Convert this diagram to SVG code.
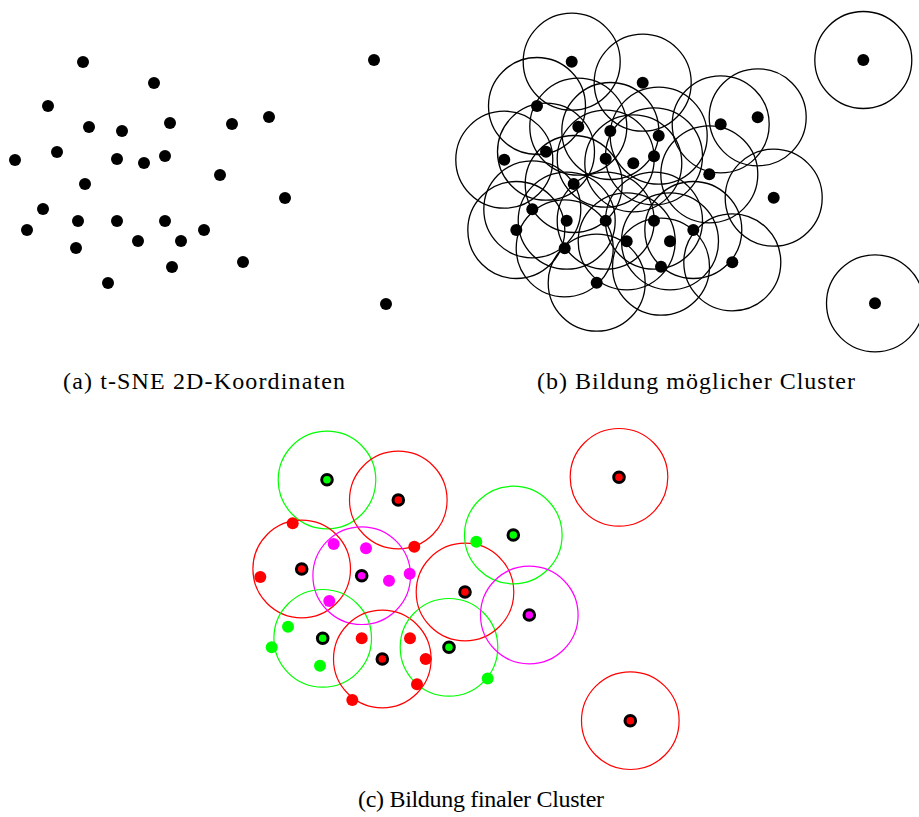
<svg xmlns="http://www.w3.org/2000/svg" width="919" height="817" viewBox="0 0 919 817">
<style>
.bg{fill:#ffffff}
.pt{fill:#000000}
.ring{fill:none;stroke:#000000;stroke-width:1.3}
.rr{fill:none;stroke:#ff0000;stroke-width:1.2}
.rg{fill:none;stroke:#00ff00;stroke-width:1.2}
.rm{fill:none;stroke:#ff00ff;stroke-width:1.2}
.dr{fill:#ff0000}
.dg{fill:#00ff00}
.dm{fill:#ff00ff}
.cr{fill:#ff0000;stroke:#000000;stroke-width:3}
.cg{fill:#00ff00;stroke:#000000;stroke-width:3}
.cm{fill:#ff00ff;stroke:#000000;stroke-width:3}
.cap{font-family:"Liberation Serif","DejaVu Serif",serif;font-size:24px;fill:#000000}
</style>
<rect class="bg" x="0" y="0" width="919" height="817"/>

<g id="panel-a">
<g id="a-points">
<circle class="pt" cx="83" cy="62" r="6"/>
<circle class="pt" cx="154" cy="83" r="6"/>
<circle class="pt" cx="48" cy="106" r="6"/>
<circle class="pt" cx="89" cy="127" r="6"/>
<circle class="pt" cx="122" cy="131" r="6"/>
<circle class="pt" cx="170" cy="123" r="6"/>
<circle class="pt" cx="15" cy="160" r="6"/>
<circle class="pt" cx="57" cy="152" r="6"/>
<circle class="pt" cx="117" cy="159" r="6"/>
<circle class="pt" cx="144" cy="163" r="6"/>
<circle class="pt" cx="165" cy="156" r="6"/>
<circle class="pt" cx="85" cy="184" r="6"/>
<circle class="pt" cx="43" cy="209" r="6"/>
<circle class="pt" cx="27" cy="230" r="6"/>
<circle class="pt" cx="78" cy="221" r="6"/>
<circle class="pt" cx="117" cy="221" r="6"/>
<circle class="pt" cx="165" cy="221" r="6"/>
<circle class="pt" cx="204" cy="230" r="6"/>
<circle class="pt" cx="138" cy="241" r="6"/>
<circle class="pt" cx="181" cy="241" r="6"/>
<circle class="pt" cx="76" cy="248" r="6"/>
<circle class="pt" cx="172" cy="267" r="6"/>
<circle class="pt" cx="108" cy="283" r="6"/>
<circle class="pt" cx="374" cy="60" r="6"/>
<circle class="pt" cx="232" cy="124" r="6"/>
<circle class="pt" cx="269" cy="117" r="6"/>
<circle class="pt" cx="220" cy="175" r="6"/>
<circle class="pt" cx="285" cy="198" r="6"/>
<circle class="pt" cx="243" cy="262" r="6"/>
<circle class="pt" cx="386" cy="304" r="6"/>
</g>
<text id="caption-a" class="cap" x="204" y="389" text-anchor="middle" textLength="282" lengthAdjust="spacing">(a) t-SNE 2D-Koordinaten</text>
</g>

<g id="panel-b">
<g id="b-rings">
<circle class="ring" cx="571.7" cy="61.7" r="48.5"/>
<circle class="ring" cx="642.7" cy="82.7" r="48.5"/>
<circle class="ring" cx="537" cy="106" r="48.5"/>
<circle class="ring" cx="578.3" cy="126.7" r="48.5"/>
<circle class="ring" cx="610.3" cy="131" r="48.5"/>
<circle class="ring" cx="658.7" cy="135.7" r="48.5"/>
<circle class="ring" cx="504.3" cy="159.7" r="48.5"/>
<circle class="ring" cx="546" cy="151.7" r="48.5"/>
<circle class="ring" cx="605.7" cy="158.7" r="48.5"/>
<circle class="ring" cx="633.3" cy="163.3" r="48.5"/>
<circle class="ring" cx="654" cy="156.3" r="48.5"/>
<circle class="ring" cx="573.7" cy="184" r="48.5"/>
<circle class="ring" cx="532.3" cy="209.3" r="48.5"/>
<circle class="ring" cx="516.3" cy="230" r="48.5"/>
<circle class="ring" cx="566.7" cy="220.7" r="48.5"/>
<circle class="ring" cx="605.7" cy="220.7" r="48.5"/>
<circle class="ring" cx="654" cy="220.7" r="48.5"/>
<circle class="ring" cx="693.3" cy="230" r="48.5"/>
<circle class="ring" cx="626.7" cy="241.3" r="48.5"/>
<circle class="ring" cx="670" cy="241.3" r="48.5"/>
<circle class="ring" cx="564.7" cy="248.3" r="48.5"/>
<circle class="ring" cx="661" cy="266.7" r="48.5"/>
<circle class="ring" cx="596.7" cy="282.7" r="48.5"/>
<circle class="ring" cx="863.3" cy="60" r="48.5"/>
<circle class="ring" cx="720.7" cy="124.3" r="48.5"/>
<circle class="ring" cx="757.7" cy="117.3" r="48.5"/>
<circle class="ring" cx="709.3" cy="174.3" r="48.5"/>
<circle class="ring" cx="773.7" cy="197.7" r="48.5"/>
<circle class="ring" cx="732.3" cy="262.3" r="48.5"/>
<circle class="ring" cx="875" cy="303.3" r="48.5"/>
</g>
<g id="b-points">
<circle class="pt" cx="571.7" cy="61.7" r="6"/>
<circle class="pt" cx="642.7" cy="82.7" r="6"/>
<circle class="pt" cx="537" cy="106" r="6"/>
<circle class="pt" cx="578.3" cy="126.7" r="6"/>
<circle class="pt" cx="610.3" cy="131" r="6"/>
<circle class="pt" cx="658.7" cy="135.7" r="6"/>
<circle class="pt" cx="504.3" cy="159.7" r="6"/>
<circle class="pt" cx="546" cy="151.7" r="6"/>
<circle class="pt" cx="605.7" cy="158.7" r="6"/>
<circle class="pt" cx="633.3" cy="163.3" r="6"/>
<circle class="pt" cx="654" cy="156.3" r="6"/>
<circle class="pt" cx="573.7" cy="184" r="6"/>
<circle class="pt" cx="532.3" cy="209.3" r="6"/>
<circle class="pt" cx="516.3" cy="230" r="6"/>
<circle class="pt" cx="566.7" cy="220.7" r="6"/>
<circle class="pt" cx="605.7" cy="220.7" r="6"/>
<circle class="pt" cx="654" cy="220.7" r="6"/>
<circle class="pt" cx="693.3" cy="230" r="6"/>
<circle class="pt" cx="626.7" cy="241.3" r="6"/>
<circle class="pt" cx="670" cy="241.3" r="6"/>
<circle class="pt" cx="564.7" cy="248.3" r="6"/>
<circle class="pt" cx="661" cy="266.7" r="6"/>
<circle class="pt" cx="596.7" cy="282.7" r="6"/>
<circle class="pt" cx="863.3" cy="60" r="6"/>
<circle class="pt" cx="720.7" cy="124.3" r="6"/>
<circle class="pt" cx="757.7" cy="117.3" r="6"/>
<circle class="pt" cx="709.3" cy="174.3" r="6"/>
<circle class="pt" cx="773.7" cy="197.7" r="6"/>
<circle class="pt" cx="732.3" cy="262.3" r="6"/>
<circle class="pt" cx="875" cy="303.3" r="6"/>
</g>
<text id="caption-b" class="cap" x="696" y="389" text-anchor="middle" textLength="318" lengthAdjust="spacing">(b) Bildung möglicher Cluster</text>
</g>

<g id="panel-c">
<g id="c-rings">
<circle class="rg" cx="327" cy="480" r="48.8"/>
<circle class="rr" cx="398.3" cy="500" r="48.8"/>
<circle class="rr" cx="301.7" cy="569" r="48.8"/>
<circle class="rm" cx="361.7" cy="575.7" r="48.8"/>
<circle class="rg" cx="322.7" cy="638.3" r="48.8"/>
<circle class="rr" cx="382.3" cy="659" r="48.8"/>
<circle class="rg" cx="449" cy="647.3" r="48.8"/>
<circle class="rr" cx="465" cy="592" r="48.8"/>
<circle class="rg" cx="513.3" cy="535" r="48.8"/>
<circle class="rm" cx="529.3" cy="615" r="48.8"/>
<circle class="rr" cx="619" cy="477.3" r="48.8"/>
<circle class="rr" cx="630.3" cy="720.7" r="48.8"/>
</g>
<g id="c-members">
<circle class="dr" cx="292.7" cy="523.3" r="6"/>
<circle class="dr" cx="414.3" cy="546.7" r="6"/>
<circle class="dr" cx="260.3" cy="577" r="6"/>
<circle class="dr" cx="361.7" cy="638.3" r="6"/>
<circle class="dr" cx="410" cy="638.3" r="6"/>
<circle class="dr" cx="425.7" cy="659" r="6"/>
<circle class="dr" cx="417" cy="684.3" r="6"/>
<circle class="dr" cx="352.3" cy="700" r="6"/>
<circle class="dm" cx="333.7" cy="544" r="6"/>
<circle class="dm" cx="366" cy="548.3" r="6"/>
<circle class="dm" cx="389" cy="580.7" r="6"/>
<circle class="dm" cx="409.7" cy="573.7" r="6"/>
<circle class="dm" cx="329.3" cy="601" r="6"/>
<circle class="dg" cx="288" cy="626.7" r="6"/>
<circle class="dg" cx="271.7" cy="647.3" r="6"/>
<circle class="dg" cx="320" cy="665.7" r="6"/>
<circle class="dg" cx="476.3" cy="541.7" r="6"/>
<circle class="dg" cx="487.7" cy="678.5" r="6"/>
</g>
<g id="c-centers">
<circle class="cg" cx="327" cy="479.7" r="5.3"/>
<circle class="cr" cx="398.3" cy="500" r="5.3"/>
<circle class="cr" cx="301.7" cy="569" r="5.3"/>
<circle class="cm" cx="361.7" cy="575.7" r="5.3"/>
<circle class="cg" cx="322.7" cy="638.3" r="5.3"/>
<circle class="cr" cx="382.3" cy="659" r="5.3"/>
<circle class="cg" cx="449" cy="647.3" r="5.3"/>
<circle class="cr" cx="465" cy="592" r="5.3"/>
<circle class="cg" cx="513.3" cy="535" r="5.3"/>
<circle class="cm" cx="529.3" cy="615" r="5.3"/>
<circle class="cr" cx="619" cy="477.3" r="5.3"/>
<circle class="cr" cx="630.3" cy="720.7" r="5.3"/>
</g>
<text id="caption-c" class="cap" x="481" y="807" text-anchor="middle" textLength="246" lengthAdjust="spacing">(c) Bildung finaler Cluster</text>
</g>
</svg>
